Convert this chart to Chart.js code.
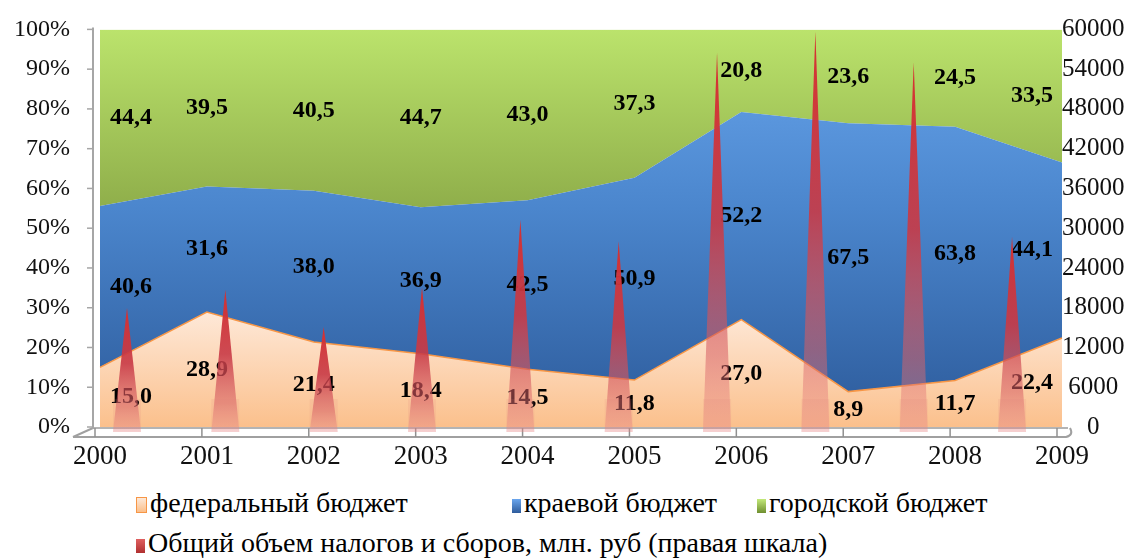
<!DOCTYPE html>
<html>
<head>
<meta charset="UTF-8">
<title>Chart</title>
<script src="https://cdn.jsdelivr.net/npm/chart.js"></script>
<style>
  body { margin: 0; background: #fff; font-family: 'Liberation Serif'; }
  #wrap { position: relative; width: 1135px; height: 558px; }
  #box { position: absolute; left: 0; top: 0; width: 1135px; height: 480px; }
  .leg { position: absolute; font-size: 28px; color: #000; white-space: nowrap; line-height: 32px; font-family: 'Liberation Serif'; }
  .leg i { display: inline-block; width: 9px; height: 14px; margin-right: 3px; vertical-align: -1px; }
</style>
</head>
<body>
<div id="wrap">
  <div id="box"><canvas id="myChart"></canvas></div>
  <div id="legend"></div>
</div>
<script>
    // years on the x axis
    const years = ['2000', '2001', '2002', '2003', '2004', '2005', '2006', '2007', '2008', '2009'];

    // shares of each budget level, %
    const federal = [15.0, 28.9, 21.4, 18.4, 14.5, 11.8, 27.0, 8.9, 11.7, 22.4];
    const regional = [40.6, 31.6, 38.0, 36.9, 42.5, 50.9, 52.2, 67.5, 63.8, 44.1];
    const city = [44.4, 39.5, 40.5, 44.7, 43.0, 37.3, 20.8, 23.6, 24.5, 33.5];

    const taxTotal = [18000, 20700, 15100, 21100, 31300, 28000, 56500, 59700, 55000, 28700];

    const seriesNames = ['федеральный бюджет', 'краевой бюджет', 'городской бюджет',
        'Общий объем налогов и сборов, млн. руб (правая шкала)'];

    const serif = "'Liberation Serif'";
    Chart.defaults.font.family = serif;
    Chart.defaults.color = '#111';

    function vGrad(chart, stops) {
        const a = chart.chartArea;
        if (!a) return null;
        const g = chart.ctx.createLinearGradient(0, a.top, 0, a.bottom);
        stops.forEach(s => g.addColorStop(s[0], s[1]));
        return g;
    }

    const fmt = v => v.toFixed(1).replace('.', ',');

    // 3D-ish wall and floor, data labels and cones
    const framePlugin = {
        id: 'frame',
        beforeDatasetsDraw(chart) {
            const { ctx, chartArea: a, scales } = chart;
            ctx.save();
            // floor
            ctx.strokeStyle = '#b4b4b4';
            ctx.lineWidth = 2;
            ctx.beginPath();
            ctx.moveTo(a.left - 7, a.bottom + 1);
            ctx.lineTo(a.right + 6, a.bottom + 1);
            ctx.stroke();
            ctx.strokeStyle = '#a0a0a0';
            ctx.beginPath();
            ctx.moveTo(a.left - 27, a.bottom + 10);
            ctx.lineTo(a.right + 4, a.bottom + 10);
            ctx.quadraticCurveTo(a.right + 12, a.bottom + 8, a.right + 8, a.bottom + 1);
            ctx.stroke();
            ctx.beginPath();
            ctx.moveTo(a.left - 27, a.bottom + 10);
            ctx.lineTo(a.left - 7, a.bottom + 1);
            ctx.stroke();
            // x ticks
            ctx.lineWidth = 1.5;
            ctx.strokeStyle = '#909090';
            scales.x.ticks.forEach((t, i) => {
                const x = scales.x.getPixelForTick(i) - 5;
                ctx.beginPath();
                ctx.moveTo(x, a.bottom + 1);
                ctx.lineTo(x, a.bottom + 10);
                ctx.stroke();
            });
            // left wall
            ctx.strokeStyle = '#a6a6a6';
            ctx.lineWidth = 2;
            ctx.beginPath();
            ctx.moveTo(a.left - 7, a.top - 2);
            ctx.lineTo(a.left - 7, a.bottom + 2);
            ctx.stroke();
            ctx.lineWidth = 1.5;
            scales.y.ticks.forEach(t => {
                const y = scales.y.getPixelForValue(t.value);
                ctx.beginPath();
                ctx.moveTo(a.left - 13, y);
                ctx.lineTo(a.left - 7, y);
                ctx.stroke();
            });
            ctx.restore();
        },
        afterDatasetsDraw(chart) {
            const { ctx, scales } = chart;
            const y = scales.y;
            const shares = [federal, regional, city];
            ctx.save();
            ctx.font = 'bold 24px ' + serif;
            ctx.fillStyle = '#000';
            ctx.textAlign = 'center';
            ctx.textBaseline = 'middle';
            const cum = years.map(() => 0);
            shares.forEach((arr, d) => {
                const meta = chart.getDatasetMeta(d);
                arr.forEach((v, j) => {
                    let x = meta.data[j].x;
                    if (j === 0) x += 31;
                    if (j === arr.length - 1) x -= 30;
                    ctx.fillText(fmt(v), x, y.getPixelForValue(cum[j] + v / 2));
                    cum[j] += v;
                });
            });
            // cones over the labels, placed through the hidden x2 axis and the right axis
            const x2 = scales.x2, y1 = scales.y1;
            const base = y1.getPixelForValue(0);
            taxTotal.forEach((v, i) => {
                const x = x2.getPixelForValue(i);
                const top = y1.getPixelForValue(v);
                const half = 14;
                const bottom = base + 5;
                const g = ctx.createLinearGradient(0, top, 0, bottom);
                g.addColorStop(0, 'rgba(214,48,48,1)');
                g.addColorStop(0.45, 'rgba(200,58,70,0.9)');
                g.addColorStop(0.8, 'rgba(215,95,100,0.55)');
                g.addColorStop(1, 'rgba(235,140,140,0.3)');
                ctx.fillStyle = g;
                ctx.beginPath();
                ctx.moveTo(x, top);
                ctx.lineTo(x + half, bottom);
                ctx.lineTo(x - half, bottom);
                ctx.closePath();
                ctx.fill();
                ctx.fillStyle = 'rgba(225,120,120,0.12)';
                ctx.fillRect(x - half, base - 28, half * 2, 33);
            });
            ctx.restore();
        }
    };

    const ctx = document.getElementById('myChart').getContext('2d');

    new Chart(ctx, {
        type: 'line',
        data: {
            labels: years,
            datasets: [{
                label: seriesNames[0],
                data: federal,
                fill: 'origin',
                borderColor: '#f79646',
                borderWidth: 1.5,
                backgroundColor: c => vGrad(c.chart, [[0, '#fff6ee'], [0.7, '#feeadb'], [1, '#fbc08c']])
            }, {
                label: seriesNames[1],
                data: regional,
                fill: '-1',
                borderColor: 'rgba(0,0,0,0)',
                backgroundColor: c => vGrad(c.chart, [[0, '#68a5ec'], [0.45, '#4b86cd'], [1, '#2c5a9a']])
            }, {
                label: seriesNames[2],
                data: city,
                fill: '-1',
                borderColor: 'rgba(0,0,0,0)',
                backgroundColor: c => vGrad(c.chart, [[0, '#bbe36c'], [0.45, '#8fae4a'], [1, '#6b8a30']])
            }, {
                // drawn as cones by the plugin
                type: 'bar',
                label: seriesNames[3],
                data: taxTotal.map((v, i) => ({ x: i, y: v })),
                xAxisID: 'x2',
                yAxisID: 'y1',
                backgroundColor: 'rgba(0,0,0,0)',
                grouped: false,
                barThickness: 28
            }]
        },
        options: {
            responsive: true,
            maintainAspectRatio: false,
            animation: false,
            layout: { padding: { top: 0, left: 0, right: 0, bottom: 0 } },
            elements: { point: { radius: 0 }, line: { tension: 0 } },
            plugins: { legend: { display: false }, tooltip: { enabled: false } },
            scales: {
                x: {
                    type: 'category',
                    offset: false,
                    grid: { display: false, drawTicks: false },
                    border: { display: false },
                    ticks: { padding: 14, font: { size: 27 }, maxRotation: 0, autoSkip: false },
                    afterFit: s => { s.height = 53; }
                },
                x2: {
                    type: 'linear',
                    position: 'bottom',
                    offset: false,
                    min: -0.2746,
                    max: 9.508,
                    grid: { display: false, drawTicks: false },
                    border: { display: false },
                    ticks: { display: false },
                    afterFit: s => { s.height = 0; }
                },
                y: {
                    stacked: true,
                    min: 0,
                    max: 100,
                    grid: { display: false, drawTicks: true, tickLength: 15 },
                    border: { display: false },
                    ticks: { stepSize: 10, padding: 15, font: { size: 24 }, callback: v => v + '%' },
                    afterFit: s => { s.width = 100; }
                },
                y1: {
                    position: 'right',
                    min: 0,
                    max: 60000,
                    grid: { display: false, drawTicks: false },
                    border: { display: false },
                    ticks: { stepSize: 6000, padding: 0, crossAlign: 'center', font: { size: 25 }, callback: v => String(v) },
                    afterFit: s => { s.width = 73; }
                }
            }
        },
        plugins: [framePlugin]
    });

    // legend laid out like the original: three items, then the right-scale series below
    const legendMarks = [
        'background:linear-gradient(#fde9d9,#fbbf8a);border:1px solid #f79646;',
        'background:linear-gradient(#6aa6ee,#2f5c9c);',
        'background:linear-gradient(#c3e97a,#6f8f30);',
        'background:linear-gradient(#e06060,#b03030);'
    ];
    const legendPos = [[136, 487], [512, 487], [757, 487], [136, 527]];
    document.getElementById('legend').innerHTML = seriesNames.map((n, i) =>
        '<div class="leg" style="left:' + legendPos[i][0] + 'px;top:' + legendPos[i][1] + 'px">' +
        '<i style="' + legendMarks[i] + '"></i>' + n + '</div>').join('');
</script>
</body>
</html>
